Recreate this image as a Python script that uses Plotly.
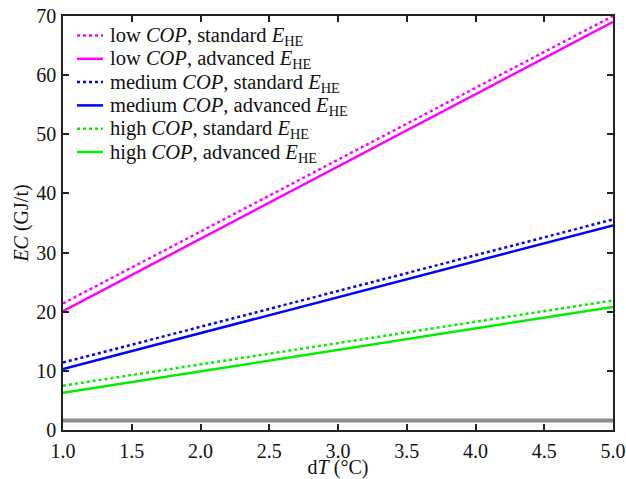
import plotly.graph_objects as go

dT = [1.0, 5.0]
low_std = [21.4, 70.0]
low_adv = [20.1, 69.0]
med_std = [11.4, 35.6]
med_adv = [10.3, 34.6]
high_std = [7.5, 21.9]
high_adv = [6.3, 20.8]
baseline = [1.6, 1.6]

names = [
    "low <i>COP</i>, standard <i>E</i><sub>HE</sub>",
    "low <i>COP</i>, advanced <i>E</i><sub>HE</sub>",
    "medium <i>COP</i>, standard <i>E</i><sub>HE</sub>",
    "medium <i>COP</i>, advanced <i>E</i><sub>HE</sub>",
    "high <i>COP</i>, standard <i>E</i><sub>HE</sub>",
    "high <i>COP</i>, advanced <i>E</i><sub>HE</sub>",
]
values = [low_std, low_adv, med_std, med_adv, high_std, high_adv]
colors = ["#FF00FF", "#FF00FF", "#0000FF", "#0000FF", "#00EE00", "#00EE00"]
dashes = ["dot", "solid", "dot", "solid", "dot", "solid"]

SERIF = "Liberation Serif"
W, H = 626, 479
L, R, T, B = 63, 13, 16, 49
pw, ph = W - L - R, H - T - B

fig = go.Figure()
fig.add_trace(go.Scatter(x=dT, y=baseline, mode="lines", line=dict(color="#8c8c8c", width=4),
                         showlegend=False, hoverinfo="skip"))
for name, vals, col, dash in zip(names, values, colors, dashes):
    fig.add_trace(go.Scatter(x=dT, y=vals, mode="lines", name=name, showlegend=False,
                             line=dict(color=col, width=2.5, dash=dash)))

# manual legend (pixel positions, tight row spacing like the reference)
def px_x(p):
    return (p - L) / pw

def px_y(p):
    return (H - B - p) / ph

for i, (name, col, dash) in enumerate(zip(names, colors, dashes)):
    yc = 35.5 + 23.3 * i
    fig.add_shape(type="line", xref="paper", yref="paper",
                  x0=px_x(77), x1=px_x(103), y0=px_y(yc), y1=px_y(yc),
                  line=dict(color=col, width=2.5, dash=dash))
    fig.add_annotation(xref="paper", yref="paper", x=px_x(108), y=px_y(yc + 1),
                       xanchor="left", yanchor="middle", text=name, showarrow=False,
                       font=dict(family=SERIF, size=20.5, color="#111"))

tickfont = dict(family=SERIF, size=20, color="#111")
titlefont = dict(family=SERIF, size=20, color="#111")
axis_common = dict(showline=True, linecolor="#222", linewidth=1.5, mirror="ticks",
                   ticks="inside", ticklen=6, tickwidth=1.5, tickcolor="#222",
                   showgrid=False, zeroline=False, tickfont=tickfont, automargin=False,
                   ticklabeloverflow="allow")
fig.update_layout(
    width=W, height=H,
    margin=dict(l=L, r=R, t=T, b=B),
    paper_bgcolor="white", plot_bgcolor="white",
    font=dict(family=SERIF, size=20, color="#111"),
    xaxis=dict(range=[1, 5], dtick=0.5, tickformat=".1f", ticklabelstandoff=2,
               title=dict(text="d<i>T</i> (°C)", font=titlefont, standoff=7), **axis_common),
    yaxis=dict(range=[0, 70], dtick=10, ticklabelstandoff=1,
               title=dict(text="<i>EC</i> (GJ/t)", font=titlefont, standoff=2), **axis_common),
    showlegend=False,
)
fig.write_html("out.html", config={"displayModeBar": False},
               post_script="document.body.style.margin='0';document.body.style.overflow='hidden';")
